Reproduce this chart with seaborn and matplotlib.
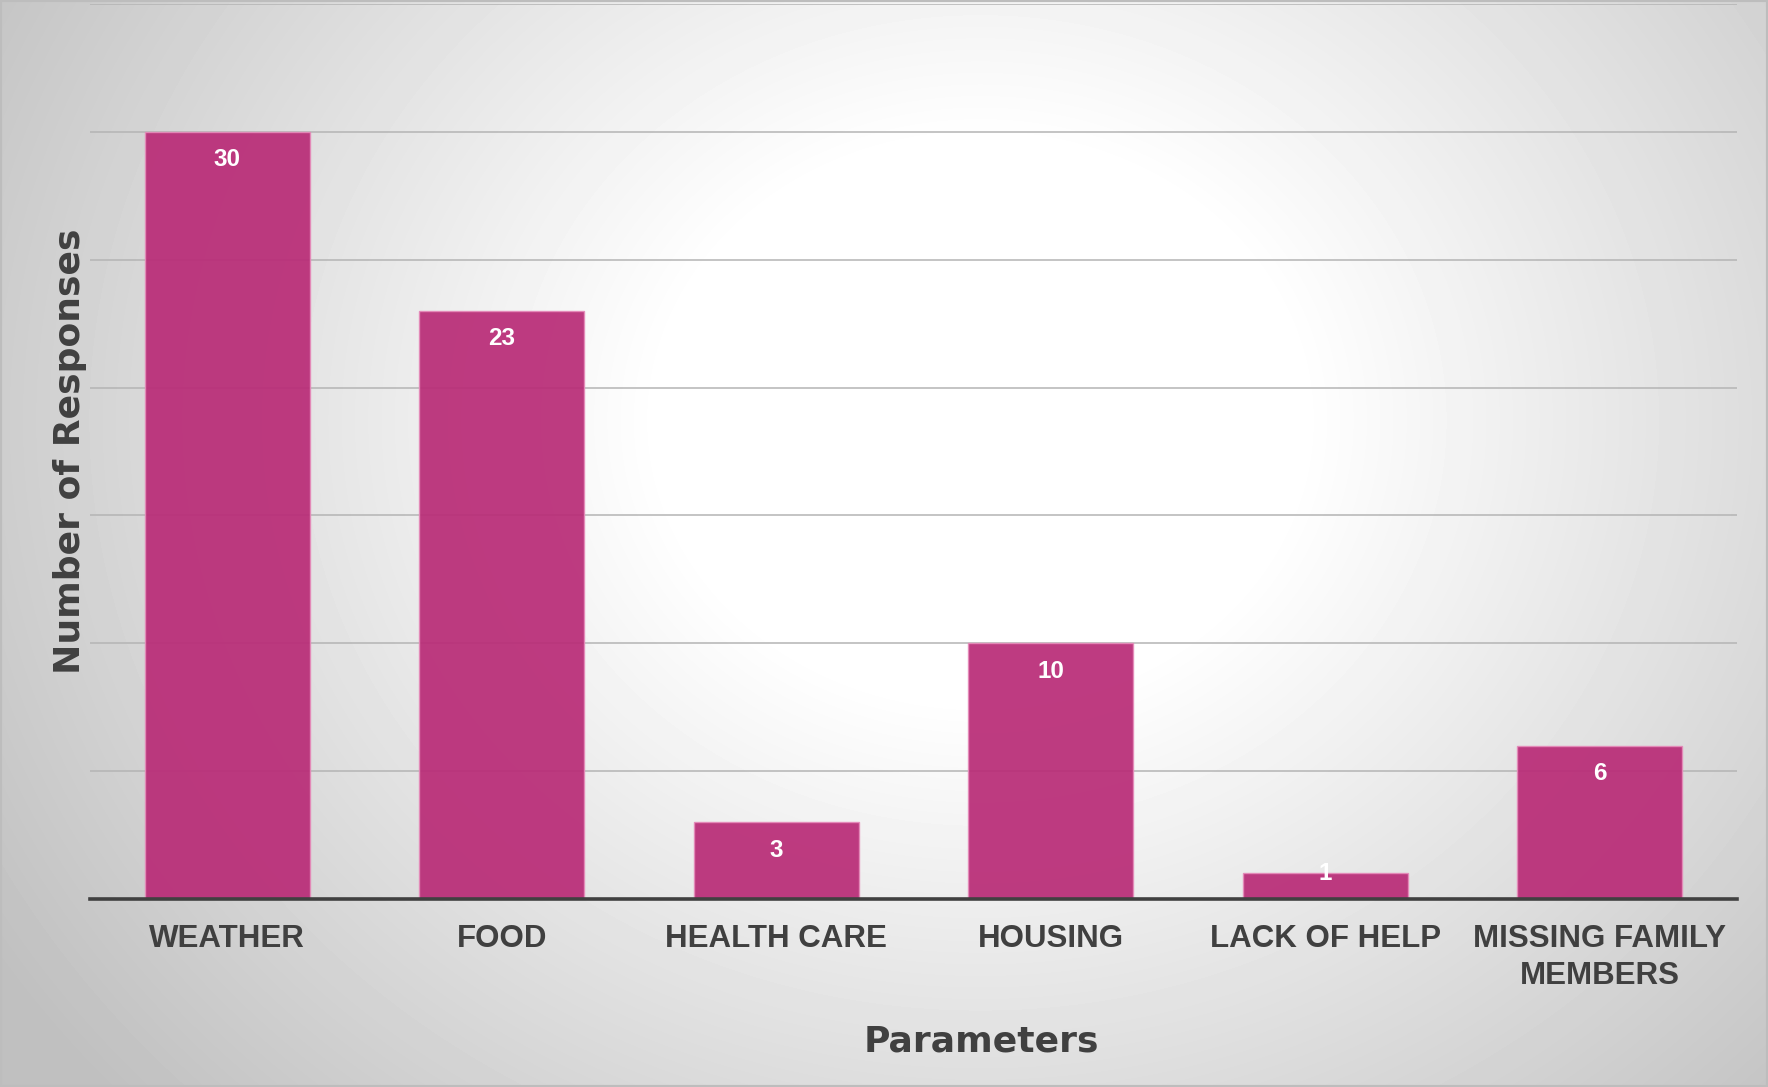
import numpy as np
import pandas as pd
import seaborn as sns
import matplotlib.pyplot as plt

# chart data
categories = ["WEATHER", "FOOD", "HEALTH CARE", "HOUSING", "LACK OF HELP", "MISSING FAMILY\nMEMBERS"]
responses = [30, 23, 3, 10, 1, 6]
y_ticks = [0, 5, 10, 15, 20, 25, 30, 35]

bar_color = "#b92c77"
text_color = "#404040"

df = pd.DataFrame({"Parameters": categories, "Responses": responses})

sns.set_theme(style="white")
plt.rcParams['font.family'] = ['Liberation Sans', 'DejaVu Sans']

fig = plt.figure(figsize=(17.68, 10.87), dpi=100)

# radial grey-to-white background
bg = fig.add_axes([0, 0, 1, 1], zorder=-10)
h, w = 1087, 1768
yy, xx = np.mgrid[0:h, 0:w]
r = np.hypot(xx - 980, (yy - 420) * 1.15)
shade = 1 - 0.25 * np.clip((r - 320) / 850, 0, 1)
bg.imshow(shade, cmap="gray", vmin=0, vmax=1, aspect="auto", interpolation="bilinear")
bg.set_axis_off()

ax = fig.add_axes([90 / 1768, 1 - 899 / 1087, 1647 / 1768, 895 / 1087])
ax.set_facecolor("none")

sns.barplot(data=df, x="Parameters", y="Responses", color=bar_color, saturation=1,
            width=0.6, alpha=0.93, edgecolor="#e58ab9", linewidth=1, ax=ax, zorder=3)

ax.set_xlim(-0.5, len(categories) - 0.5)
ax.set_ylim(0, 35)
ax.set_yticks(y_ticks)
ax.set_yticklabels([])
ax.grid(axis="y", color="#b4b4b4", linewidth=1.1, zorder=0)
ax.set_axisbelow(True)
for side in ["left", "right", "top"]:
    ax.spines[side].set_visible(False)
ax.spines["bottom"].set_color(text_color)
ax.spines["bottom"].set_linewidth(2.6)
ax.spines["bottom"].set_zorder(5)
ax.tick_params(axis="both", length=0)
ax.tick_params(axis="x", pad=18)
for lbl in ax.get_xticklabels():
    lbl.set_fontsize(22.5)
    lbl.set_fontweight("bold")
    lbl.set_color(text_color)
    lbl.set_linespacing(1.3)

# value labels inside the top of each bar
for i, v in enumerate(responses):
    y = v - 1.1 if v > 2 else v
    ax.text(i, y, str(v), ha="center", va="center", color="white",
            fontsize=17.5, fontweight="bold", zorder=6)

ax.set_xlabel("Parameters", fontsize=26, fontweight="bold", color=text_color,
              family=["DejaVu Sans"])
ax.set_ylabel("Number of Responses", fontsize=26, fontweight="bold", color=text_color,
              family=["DejaVu Sans"])
ax.xaxis.set_label_coords(0.541, -0.140)
ax.yaxis.set_label_coords(-0.002, 0.5)

# thin grey frame around the figure
fig.patches.append(plt.Rectangle((0, 0), 1, 1, transform=fig.transFigure,
                                 fill=False, edgecolor="#bdbdbd", linewidth=3))

fig.savefig("out.png", dpi=100)
